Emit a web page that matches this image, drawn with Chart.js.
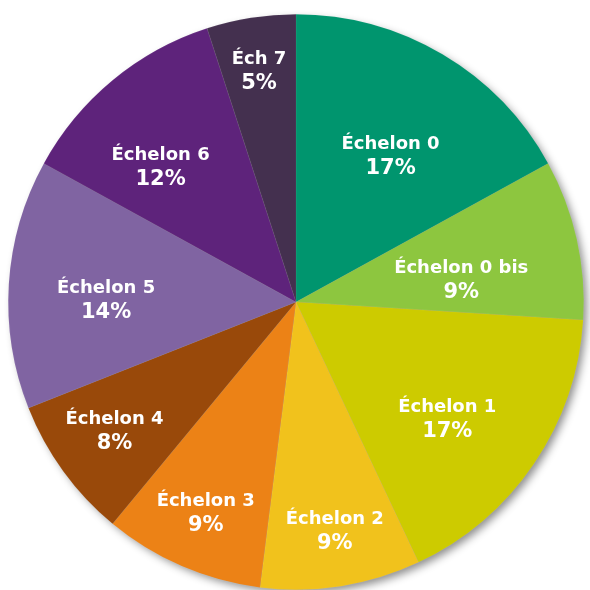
<!DOCTYPE html>
<html>
<head>
<meta charset="utf-8">
<script src="https://cdn.jsdelivr.net/npm/chart.js@4"></script>
<style>
  html, body { margin: 0; padding: 0; background: #fff; }
  #wrap { width: 590px; height: 590px; position: relative; }
</style>
</head>
<body>
<div id="wrap"><canvas id="pie"></canvas></div>
<script>
(function () {
  'use strict';

  const LABELS = ['Échelon 0', 'Échelon 0 bis', 'Échelon 1', 'Échelon 2', 'Échelon 3',
                  'Échelon 4', 'Échelon 5', 'Échelon 6', 'Éch 7'];
  const SHARES = [17, 9, 17, 9, 9, 8, 14, 12, 5];
  const COLORS = [
    '#00956e', '#8dc63f', '#cdcb00', '#f1c21c', '#ec8216',
    '#99490a', '#8064a2', '#5e237b', '#44304f',
  ];
  // label placement: fraction of radius, and angular nudge in degrees
  const LABEL_R = [0.61, 0.58, 0.66, 0.80, 0.79, 0.77, 0.66, 0.67, 0.82];
  const LABEL_NUDGE = [2, 4.5, 3, -0.7, 0, 1, -2.3, -5, 0];

  const NAME_FONT = 'bold 18px "DejaVu Sans", sans-serif';
  const PCT_FONT = 'bold 21px "DejaVu Sans", sans-serif';

  const shadow = {
    id: 'pieShadow',
    beforeDatasetsDraw(chart) {
      const arc = chart.getDatasetMeta(0).data[0];
      if (!arc) return;
      const ctx = chart.ctx;
      ctx.save();
      ctx.shadowColor = 'rgba(0,0,0,0.45)';
      ctx.shadowBlur = 8;
      ctx.shadowOffsetX = 4;
      ctx.shadowOffsetY = 4;
      ctx.fillStyle = '#888';
      ctx.beginPath();
      ctx.arc(arc.x, arc.y, arc.outerRadius - 1, 0, Math.PI * 2);
      ctx.fill();
      ctx.restore();
    },
  };

  const sliceLabels = {
    id: 'sliceLabels',
    afterDatasetsDraw(chart) {
      const ctx = chart.ctx;
      const meta = chart.getDatasetMeta(0);
      ctx.save();
      ctx.fillStyle = '#fff';
      ctx.textAlign = 'center';
      ctx.textBaseline = 'alphabetic';
      meta.data.forEach((arc, i) => {
        const mid = (arc.startAngle + arc.endAngle) / 2 + LABEL_NUDGE[i] * Math.PI / 180;
        const r = arc.outerRadius * LABEL_R[i];
        const x = arc.x + Math.cos(mid) * r;
        const y = arc.y + Math.sin(mid) * r;
        ctx.font = NAME_FONT;
        ctx.fillText(LABELS[i], x, y - 5);
        ctx.font = PCT_FONT;
        ctx.fillText(SHARES[i] + '%', x, y + 20);
      });
      ctx.restore();
    },
  };

  new Chart(document.getElementById('pie'), {
    type: 'pie',
    data: {
      labels: LABELS,
      datasets: [{
        data: SHARES,
        backgroundColor: COLORS,
        borderColor: 'rgba(255,255,255,0.12)',
        borderWidth: 0.5,
      }],
    },
    options: {
      responsive: true,
      maintainAspectRatio: false,
      animation: false,
      layout: { padding: { left: 8, right: 6, top: 14, bottom: 0 } },
      plugins: {
        legend: { display: false },
        tooltip: { enabled: false },
      },
    },
    plugins: [shadow, sliceLabels],
  });
}());
</script>
</body>
</html>
